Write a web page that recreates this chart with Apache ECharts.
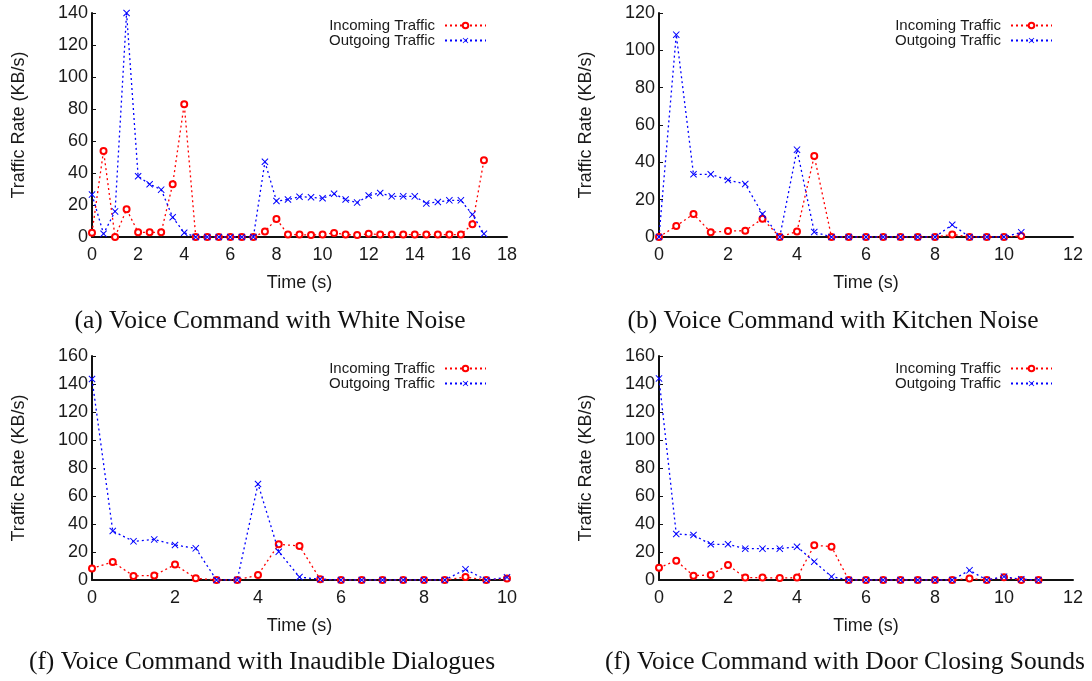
<!DOCTYPE html>
<html>
<head>
<meta charset="utf-8">
<script src="https://cdn.jsdelivr.net/npm/echarts@6/dist/echarts.min.js"></script>
<style>
html,body{margin:0;padding:0;background:#fff;}
#chart{width:1092px;height:681px;}
</style>
</head>
<body>
<div id="chart"></div>
<script>
// ---- data ----
const seriesNames = ['Incoming Traffic', 'Outgoing Traffic'];
const captions = [
  '(a) Voice Command with White Noise',
  '(b) Voice Command with Kitchen Noise',
  '(f) Voice Command with Inaudible Dialogues',
  '(f) Voice Command with Door Closing Sounds'
];

// (a) White noise
const timeA = [0,0.5,1,1.5,2,2.5,3,3.5,4,4.5,5,5.5,6,6.5,7,7.5,8,8.5,9,9.5,10,10.5,11,11.5,12,12.5,13,13.5,14,14.5,15,15.5,16,16.5,17];
const inA  = [2.7,53.8,0,17.3,2.9,2.9,2.9,33,83,0,0,0,0,0,0,3.4,11.3,1.5,1.5,1.2,1.5,2.5,1.5,1.2,2,1.5,1.5,1.5,1.5,1.5,1.5,1.5,1.5,8,48];
const outA = [26.5,2,16,140,38,33,29.6,12.3,2.7,0,0,0,0,0,0,47,22.5,23.4,25.2,24.8,24.2,27,23.4,21.5,25.9,27.5,25.4,25.4,25.4,21,21.9,22.9,22.9,14,2];

// (b) Kitchen noise
const timeB = [0,0.5,1,1.5,2,2.5,3,3.5,4,4.5,5,5.5,6,6.5,7,7.5,8,8.5,9,9.5,10,10.5];
const inB  = [0,5.9,12.3,2.5,3.2,3.4,9.8,0,3,43.4,0,0,0,0,0,0,0,1.4,0,0,0,0.5];
const outB = [0,108.4,33.6,33.6,30.5,28.4,12.3,0,46.8,2.7,0,0,0,0,0,0,0,6.6,0,0,0,2.5];

// (f) Inaudible dialogues
const timeC = [0,0.5,1,1.5,2,2.5,3,3.5,4,4.5,5,5.5,6,6.5,7,7.5,8,8.5,9,9.5,10];
const inC  = [8.3,12.9,2.9,3.3,11,1.2,0,0,3.6,25.5,24.3,0.5,0,0,0,0,0,0,2.1,0,1];
const outC = [143.6,35,27.6,29,25,22.6,0,0,68.6,20.2,2.1,0.5,0,0,0,0,0,0,7.6,0,1.9];

// (f) Door closing sounds
const timeD = [0,0.5,1,1.5,2,2.5,3,3.5,4,4.5,5,5.5,6,6.5,7,7.5,8,8.5,9,9.5,10,10.5,11];
const inD  = [8.8,13.8,3.1,3.6,10.7,1.7,1.7,1.4,1.7,24.8,23.8,0,0,0,0,0,0,0,1,0,2,0,0];
const outD = [144,32.9,32.1,25.5,25.5,22.4,22.4,22.4,23.8,13.1,2.4,0,0,0,0,0,0,0,6.9,0,2.4,0.5,0];

// axis ranges
const xMax = [18, 12, 10, 12];
const yMax = [140, 120, 160, 160];

// ---- layout ----
const panels = [
  {t: timeA, i: inA, o: outA, grid: {left: 92, top: 13, width: 415, height: 224}, legend: {right: 605, top: 18}, cap: [270, 321]},
  {t: timeB, i: inB, o: outB, grid: {left: 659, top: 13, width: 414, height: 224}, legend: {right: 39, top: 18}, cap: [833, 321]},
  {t: timeC, i: inC, o: outC, grid: {left: 92, top: 356, width: 415, height: 224}, legend: {right: 605, top: 361}, cap: [262, 662]},
  {t: timeD, i: inD, o: outD, grid: {left: 659, top: 356, width: 414, height: 224}, legend: {right: 39, top: 361}, cap: [845, 662]}
];

const SANS = '"Liberation Sans", Arial, Helvetica, sans-serif';
const SERIF = '"Liberation Serif", "Times New Roman", serif';
const crossPath = 'path://M0,1 L1,0 L5,4 L9,0 L10,1 L6,5 L10,9 L9,10 L5,6 L1,10 L0,9 L4,5 Z';

const zip = (t, v) => t.map((x, k) => [x, v[k]]);

const option = {
  animation: false,
  backgroundColor: '#ffffff',
  grid: panels.map(p => Object.assign({containLabel: false}, p.grid)),
  xAxis: panels.map((p, k) => ({
    type: 'value', gridIndex: k, min: 0, max: xMax[k], interval: 2,
    name: 'Time (s)', nameLocation: 'middle', nameGap: 37,
    nameTextStyle: {fontFamily: SANS, fontSize: 18, color: '#1a1a1a'},
    axisLine: {show: true, onZero: false, lineStyle: {color: '#111', width: 2}},
    axisTick: {show: false},
    axisLabel: {fontFamily: SANS, fontSize: 18, color: '#1a1a1a', margin: 9},
    splitLine: {show: false}
  })),
  yAxis: panels.map((p, k) => ({
    type: 'value', gridIndex: k, min: 0, max: yMax[k], interval: 20,
    name: 'Traffic Rate (KB/s)', nameLocation: 'middle', nameGap: 64, nameRotate: 90,
    nameTextStyle: {fontFamily: SANS, fontSize: 18, color: '#1a1a1a'},
    axisLine: {show: true, onZero: false, lineStyle: {color: '#111', width: 2}},
    axisTick: {show: true, inside: true, length: 4, lineStyle: {color: '#111', width: 1}},
    axisLabel: {fontFamily: SANS, fontSize: 18, color: '#1a1a1a', margin: 4},
    splitLine: {show: false}
  })),
  legend: panels.map(p => ({
    orient: 'vertical', align: 'right', right: p.legend.right, top: p.legend.top,
    itemWidth: 41, itemHeight: 7, itemGap: 0, padding: 0,
    textStyle: {fontFamily: SANS, fontSize: 15, color: '#1a1a1a', lineHeight: 15, padding: [0, 5, 0, 0]},
    data: seriesNames
  })),
  series: [],
  graphic: panels.map((p, k) => ({
    type: 'text', x: p.cap[0], y: p.cap[1],
    style: {text: captions[k], font: '25.5px ' + SERIF, fill: '#111', align: 'center', verticalAlign: 'middle'}
  }))
};

panels.forEach((p, k) => {
  option.series.push({
    name: seriesNames[0], type: 'line', xAxisIndex: k, yAxisIndex: k,
    data: zip(p.t, p.i),
    symbol: 'emptyCircle', symbolSize: 6,
    itemStyle: {color: '#ff0000', borderColor: '#ff0000', borderWidth: 1},
    lineStyle: {color: '#ff0000', width: 1.3, type: [2, 3]},
    z: 2
  });
  option.series.push({
    name: seriesNames[1], type: 'line', xAxisIndex: k, yAxisIndex: k,
    data: zip(p.t, p.o),
    symbol: crossPath, symbolSize: 7,
    itemStyle: {color: '#0000ff', borderColor: '#0000ff', borderWidth: 0},
    lineStyle: {color: '#0000ff', width: 1.3, type: [2, 3]},
    z: 3
  });
});

const chart = echarts.init(document.getElementById('chart'), null, {renderer: 'canvas'});
chart.setOption(option);
</script>
</body>
</html>
